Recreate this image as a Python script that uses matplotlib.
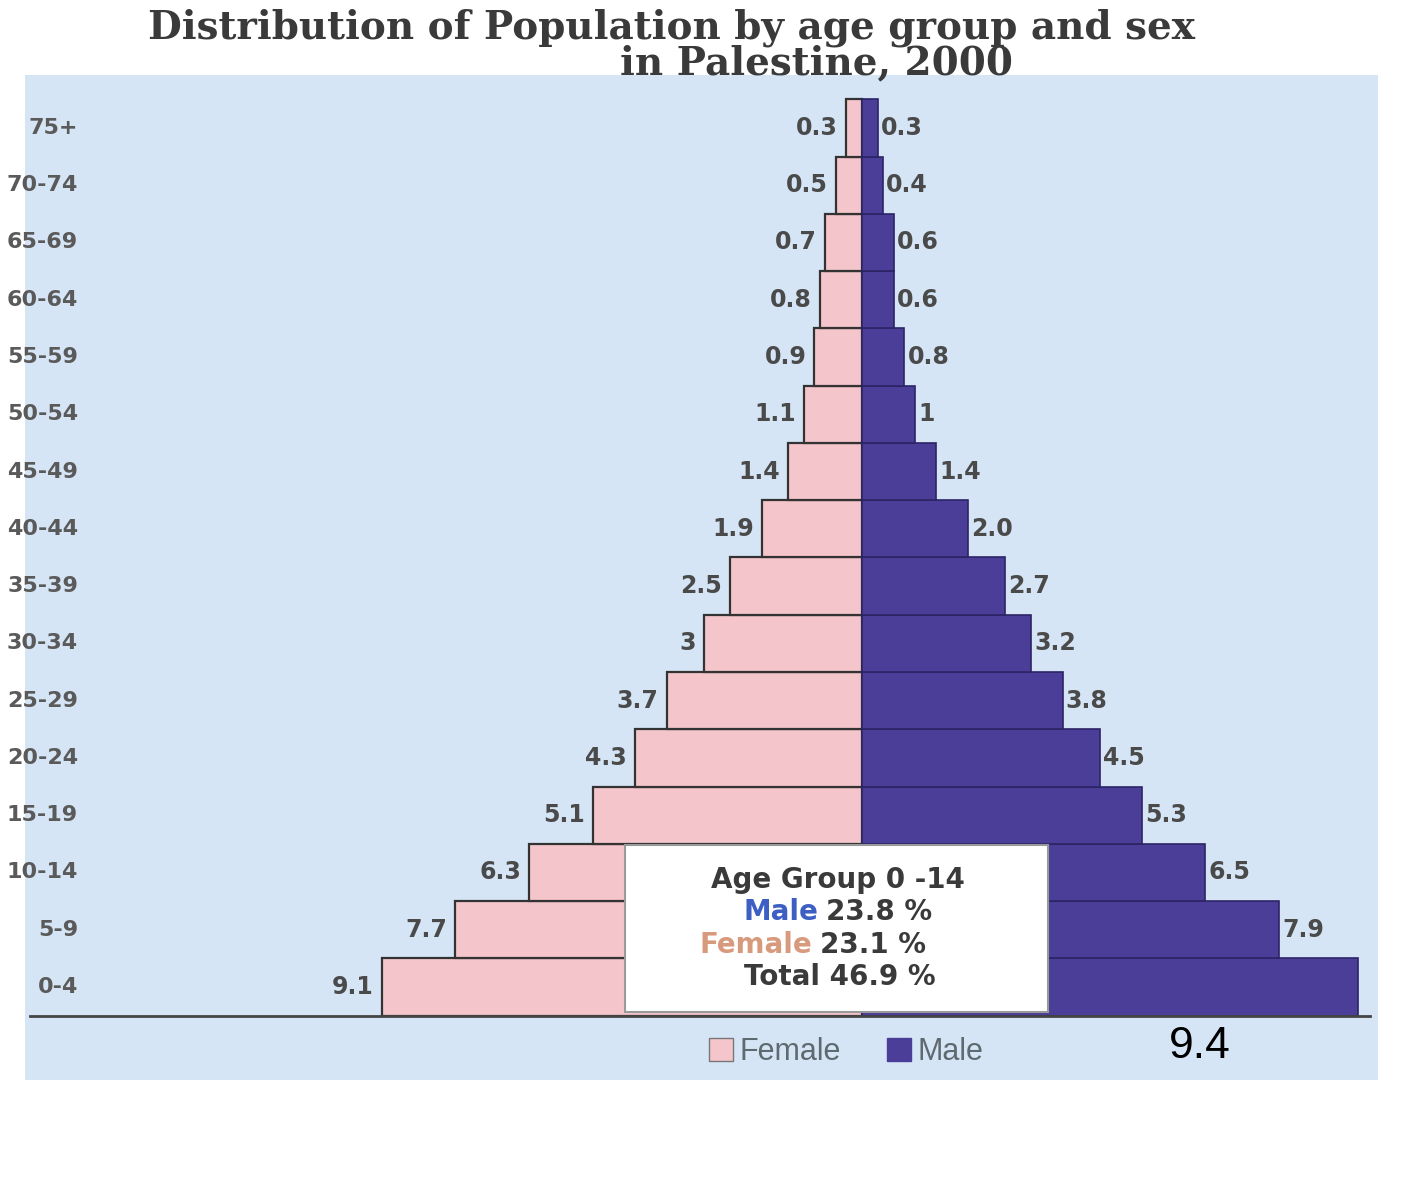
import matplotlib
matplotlib.use("Agg")
import matplotlib.pyplot as plt
from matplotlib.patches import Rectangle, Patch
import matplotlib.transforms as mtrans

# data (percent of total population), bottom -> top
ages = ["0-4", "5-9", "10-14", "15-19", "20-24", "25-29", "30-34", "35-39",
        "40-44", "45-49", "50-54", "55-59", "60-64", "65-69", "70-74", "75+"]
female = [9.1, 7.7, 6.3, 5.1, 4.3, 3.7, 3, 2.5, 1.9, 1.4, 1.1, 0.9, 0.8, 0.7, 0.5, 0.3]
male = [9.4, 7.9, 6.5, 5.3, 4.5, 3.8, 3.2, 2.7, 2.0, 1.4, 1, 0.8, 0.6, 0.6, 0.4, 0.3]
female_lbl = ["9.1", "7.7", "6.3", "5.1", "4.3", "3.7", "3", "2.5", "1.9", "1.4", "1.1",
              "0.9", "0.8", "0.7", "0.5", "0.3"]
male_lbl = ["", "7.9", "6.5", "5.3", "4.5", "3.8", "3.2", "2.7", "2.0", "1.4", "1",
            "0.8", "0.6", "0.6", "0.4", "0.3"]

PINK = "#F4C6CB"
PURPLE = "#4A3E98"
GRAY = "#4a4a4a"
SANS = ["Liberation Sans", "DejaVu Sans"]

W, H = 1423, 1194
fig = plt.figure(figsize=(W / 100, H / 100), dpi=100)
fig.patch.set_facecolor("white")

# plot area (blue panel) in pixels
L, R, T, B = 25, 1378, 75, 1080
ax = fig.add_axes([L / W, 1 - B / H, (R - L) / W, (B - T) / H])
ax.set_facecolor("#D5E5F5")
for s in ax.spines.values():
    s.set_visible(False)
ax.set_xticks([])
ax.set_yticks([])

px = 52.8      # px per percent
cx = 862       # centre line
py = 57.27     # px per row
y0 = 987       # row 0 centre
ax.set_xlim(-(cx - L) / px, (R - cx) / px)
ax.set_ylim(-(B - y0) / py, (y0 - T) / py)

ys = list(range(len(ages)))
ax.barh(ys, [-v for v in female], height=1.0, color=PINK, edgecolor="#333333", linewidth=1.6)
ax.barh(ys, male, height=1.0, color=PURPLE, edgecolor="#2c2466", linewidth=1.2)

for y, v, t in zip(ys, female, female_lbl):
    ax.text(-v - 0.15, y, t, ha="right", va="center", fontsize=17,
            fontweight="bold", color=GRAY)
for y, v, t in zip(ys, male, male_lbl):
    if t:
        ax.text(v + 0.06, y, t, ha="left", va="center", fontsize=17,
                fontweight="bold", color=GRAY)

# age labels at the left edge
tr = mtrans.blended_transform_factory(ax.transAxes, ax.transData)
for y, a in zip(ys, ages):
    ax.text((78 - L) / (R - L), y, a, transform=tr, ha="right", va="center",
            fontsize=16, fontweight="bold", color="#5a5a5a")

# baseline
ax.axhline(-0.5, xmin=5 / (R - L), xmax=(1370 - L) / (R - L), color="#444444", lw=2)

# annotation box
def fx(x):
    return x / W

def fy(y):
    return 1 - y / H

fig.patches.append(Rectangle((fx(625), fy(1012)), fx(1048) - fx(625), fy(845) - fy(1012),
                             transform=fig.transFigure, facecolor="white",
                             edgecolor="#999999", lw=1.5, zorder=5))
tk = dict(fontsize=20, fontweight="bold", va="center", zorder=6)
fig.text(fx(838), fy(880), "Age Group 0 -14", ha="center", color="#3a3a3a", **tk)
fig.text(fx(818), fy(912), "Male", ha="right", color="#3d5fc4", **tk)
fig.text(fx(826), fy(912), "23.8 %", ha="left", color="#3a3a3a", **tk)
fig.text(fx(812), fy(945), "Female", ha="right", color="#d89a7c", **tk)
fig.text(fx(820), fy(945), "23.1 %", ha="left", color="#3a3a3a", **tk)
fig.text(fx(840), fy(977), "Total 46.9 %", ha="center", color="#3a3a3a", **tk)

# legend
handles = [Patch(facecolor=PINK, edgecolor="#777777", label="Female"),
           Patch(facecolor=PURPLE, edgecolor=PURPLE, label="Male")]
leg = fig.legend(handles=handles, loc="center", bbox_to_anchor=(fx(846), fy(1052)),
                 ncol=2, frameon=False, handlelength=0.8, handleheight=0.8,
                 handletextpad=0.2, columnspacing=1.5,
                 prop=dict(family=SANS, size=22))
for t in leg.get_texts():
    t.set_color("#5f6a70")

fig.text(fx(1200), fy(1046), "9.4", ha="center", va="center", fontsize=32,
         color="black", family=SANS)

# title
fig.text(fx(672), fy(28), "Distribution of Population by age group and sex",
         ha="center", va="center", fontsize=28, fontweight="bold",
         family="DejaVu Serif", color="#3a3a3a")
fig.text(fx(817), fy(63), "in Palestine, 2000", ha="center", va="center",
         fontsize=28, fontweight="bold", family="DejaVu Serif", color="#3a3a3a")

fig.savefig("out.png", dpi=100)
